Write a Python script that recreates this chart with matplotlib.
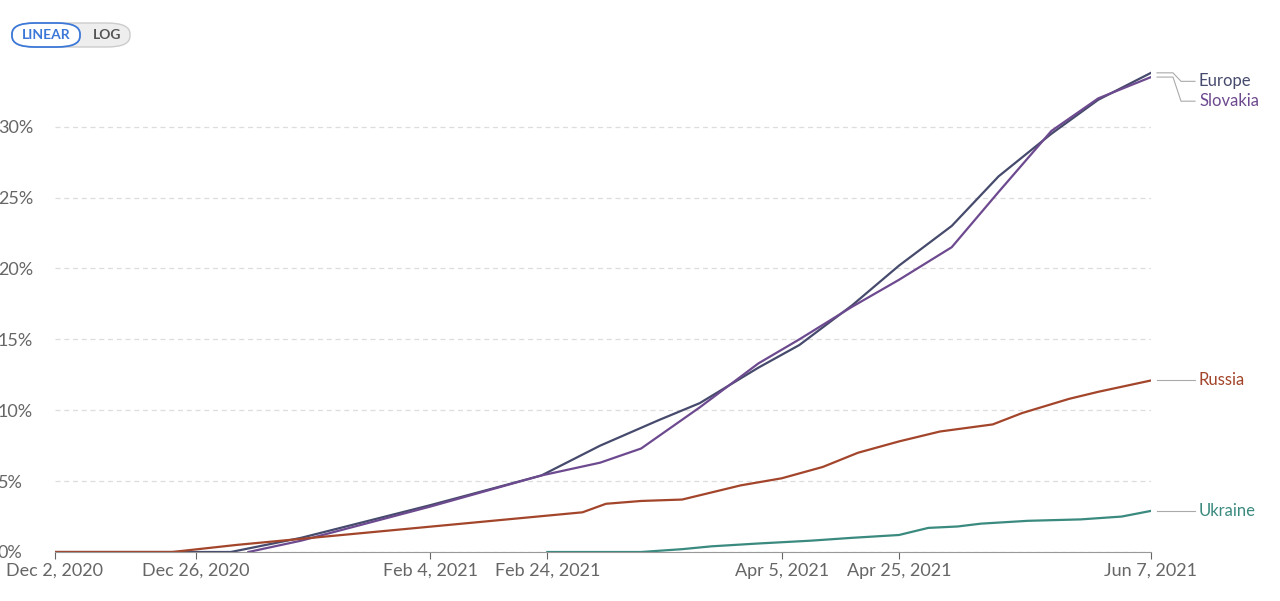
import matplotlib
matplotlib.use("Agg")
import matplotlib.pyplot as plt
import pandas as pd
from matplotlib.patches import FancyBboxPatch

plt.rcParams['font.family'] = ['Lato', 'DejaVu Sans']

# ---------- data (share of population, %) ----------
europe_dates = ["2020-12-02", "2021-01-01", "2021-01-13", "2021-02-04", "2021-02-23", "2021-03-05",
                "2021-03-15", "2021-03-22", "2021-04-01", "2021-04-08", "2021-04-17", "2021-04-25",
                "2021-05-04", "2021-05-12", "2021-05-21", "2021-05-29", "2021-06-07"]
europe_vals = [0, 0, 1.0, 3.3, 5.4, 7.5, 9.3, 10.5, 13.0, 14.6, 17.4, 20.2, 23.0, 26.5, 29.5, 31.9, 33.8]

slovakia_dates = ["2021-01-04", "2021-01-13", "2021-02-04", "2021-02-23", "2021-03-05", "2021-03-12",
                  "2021-03-22", "2021-04-01", "2021-04-08", "2021-04-17", "2021-04-25", "2021-05-04",
                  "2021-05-12", "2021-05-21", "2021-05-29", "2021-06-07"]
slovakia_vals = [0, 0.8, 3.2, 5.4, 6.3, 7.3, 10.2, 13.3, 15.0, 17.3, 19.2, 21.5, 25.4, 29.7, 32.0, 33.5]

russia_dates = ["2020-12-02", "2020-12-22", "2021-01-02", "2021-03-02", "2021-03-06", "2021-03-12",
                "2021-03-19", "2021-03-29", "2021-04-05", "2021-04-12", "2021-04-18", "2021-04-25",
                "2021-05-02", "2021-05-11", "2021-05-16", "2021-05-24", "2021-05-29", "2021-06-07"]
russia_vals = [0, 0, 0.5, 2.8, 3.4, 3.6, 3.7, 4.7, 5.2, 6.0, 7.0, 7.8, 8.5, 9.0, 9.8, 10.8, 11.3, 12.1]

ukraine_dates = ["2021-02-24", "2021-03-12", "2021-03-19", "2021-03-24", "2021-04-01", "2021-04-10",
                 "2021-04-17", "2021-04-25", "2021-04-30", "2021-05-05", "2021-05-09", "2021-05-17",
                 "2021-05-26", "2021-06-02", "2021-06-07"]
ukraine_vals = [0, 0, 0.2, 0.4, 0.6, 0.8, 1.0, 1.2, 1.7, 1.8, 2.0, 2.2, 2.3, 2.5, 2.9]

series = [
    ("Europe", europe_dates, europe_vals, "#464a6c", 33.2),
    ("Slovakia", slovakia_dates, slovakia_vals, "#6d4a8f", 31.8),
    ("Russia", russia_dates, russia_vals, "#a3452b", 12.1),
    ("Ukraine", ukraine_dates, ukraine_vals, "#3a8a7f", 2.9),
]

tick_dates = ["2020-12-02", "2020-12-26", "2021-02-04", "2021-02-24", "2021-04-05", "2021-04-25", "2021-06-07"]
tick_labels = ["Dec 2, 2020", "Dec 26, 2020", "Feb 4, 2021", "Feb 24, 2021", "Apr 5, 2021", "Apr 25, 2021", "Jun 7, 2021"]

YMAX = 34
AX_W_PX = 1096

fig = plt.figure(figsize=(12.8, 6.01), dpi=100)
ax = fig.add_axes((55 / 1280, 49 / 601, AX_W_PX / 1280, 482 / 601))

x0, x1 = pd.Timestamp("2020-12-02"), pd.Timestamp("2021-06-07")
for name, d, v, c, ly in series:
    ax.plot(pd.to_datetime(d), v, color=c, lw=1.6, solid_joinstyle="round")
    # connector line: end point -> kink -> label (axes coords)
    ya, yl = v[-1] / YMAX, ly / YMAX
    xs = [1 + 6 / AX_W_PX, 1 + 22 / AX_W_PX, 1 + 30 / AX_W_PX, 1 + 44 / AX_W_PX]
    ax.plot(xs, [ya, ya, yl, yl], transform=ax.transAxes, color="#aaaaaa", lw=0.8, clip_on=False)
    ax.text(1 + 48 / AX_W_PX, yl, name, transform=ax.transAxes, color=c, fontsize=12,
            va="center", ha="left")

ax.set_xlim(x0, x1)
ax.set_ylim(0, YMAX)
ax.set_yticks(range(0, 31, 5))
ax.set_yticklabels([f"{t}%" for t in range(0, 31, 5)])
ax.set_xticks(pd.to_datetime(tick_dates))
ax.set_xticklabels(tick_labels)
ax.tick_params(axis="y", length=0, labelsize=13, colors="#666666", pad=4)
ax.tick_params(axis="x", length=5, labelsize=13, colors="#666666", pad=3)
ax.grid(axis="y", color="#dddddd", ls=(0, (4, 3)), lw=0.9)
for s in ["top", "right", "left"]:
    ax.spines[s].set_visible(False)
ax.spines["bottom"].set_color("#999999")
ax.set_axisbelow(True)
for lab in ax.get_yticklabels():
    lab.set_horizontalalignment("left")
    lab.set_x(-0.047)

# LINEAR / LOG toggle
fig.patches.append(FancyBboxPatch((12 / 1280, 554 / 601), 118 / 1280, 24 / 601,
                                  boxstyle="round,pad=0,rounding_size=0.018",
                                  transform=fig.transFigure, fc="#eeeeee", ec="#cccccc", lw=1))
fig.patches.append(FancyBboxPatch((12 / 1280, 554 / 601), 68 / 1280, 24 / 601,
                                  boxstyle="round,pad=0,rounding_size=0.018",
                                  transform=fig.transFigure, fc="white", ec="#3c78d8", lw=1.3))
fig.text(46 / 1280, 566 / 601, "LINEAR", color="#3c78d8", fontsize=10, fontweight="bold", ha="center", va="center")
fig.text(107 / 1280, 566 / 601, "LOG", color="#555555", fontsize=10, fontweight="bold", ha="center", va="center")

fig.savefig("out.png", dpi=100, facecolor="white")
